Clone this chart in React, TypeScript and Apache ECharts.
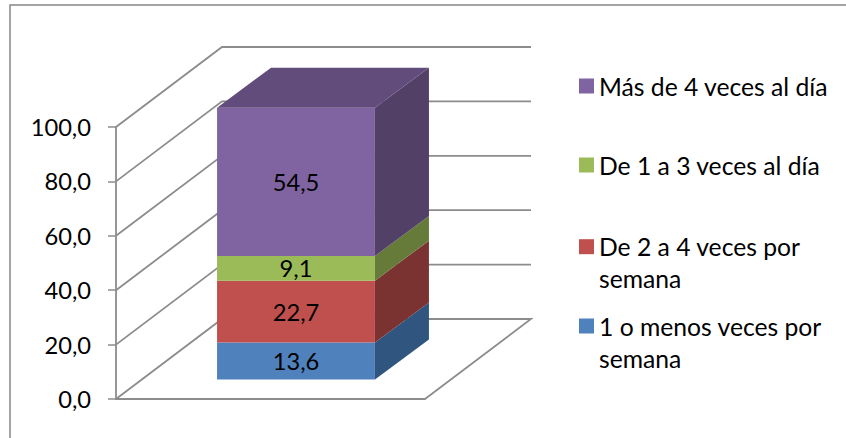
import React, { useEffect, useRef } from "react";
import * as echarts from "echarts";

const categories = ["Frecuencia"];
const seriesNames = [
  "1 o menos veces por\nsemana",
  "De 2 a 4 veces por\nsemana",
  "De 1 a 3 veces al día",
  "Más de 4 veces al día",
];
const seriesValues = [13.6, 22.7, 9.1, 54.5];
const frontColors = ["#4F81BD", "#C0504D", "#9BBB59", "#8064A2"];
const sideColors = ["#30567F", "#7A3331", "#667B3A", "#534066"];
const topColor = "#624C7B";
const tickValues = [0, 20, 40, 60, 80, 100];
const legendTops = [278, 198.7, 149, 70];

const FONT = "Lato";
const LABEL_SIZE = 23.7;
const GRAY = "#8C8C8C";
const WALL_DX = 106;
const WALL_DY = -80;
const BAR_DX = 54;
const BAR_DY = -40;
const BAR_LIFT = 19.6;
const BAR_FRACTION = 0.511;
const BAR_SHIFT = 25.5;

const fmt = (v: number) => v.toFixed(1).replace(".", ",");

export default function App() {
  const ref = useRef<HTMLDivElement>(null);
  useEffect(() => {
    const chart = echarts.init(ref.current!, undefined, { renderer: "svg" });

    const wallSeries = {
      type: "custom",
      name: "paredes",
      silent: true,
      clip: false,
      z: 1,
      data: tickValues.map((v) => [0, v]),
      encode: { x: 0, y: 1 },
      renderItem: (params: any, api: any) => {
        const c = api.coord([0, api.value(1)]);
        const w = api.size([1, 0])[0];
        const x0 = c[0] - w / 2;
        const pts = [
          [x0, c[1]],
          [x0 + WALL_DX, c[1] + WALL_DY],
          [x0 + w + WALL_DX, c[1] + WALL_DY],
        ];
        if (api.value(1) === 0) pts.push([x0 + w, c[1]]);
        return {
          type: "polyline",
          shape: { points: pts },
          style: { fill: "none", stroke: GRAY, lineWidth: 1.8 },
        };
      },
    };

    const barSeries = seriesValues.map((value, i) => {
      const start = seriesValues.slice(0, i).reduce((a, b) => a + b, 0);
      return {
        type: "custom",
        name: seriesNames[i],
        clip: false,
        z: 2 + i,
        itemStyle: { color: frontColors[i] },
        data: [[0, start, start + value, value]],
        encode: { x: 0, y: 2 },
        renderItem: (params: any, api: any) => {
          const lo = api.coord([0, api.value(1)]);
          const hi = api.coord([0, api.value(2)]);
          const w = api.size([1, 0])[0] * BAR_FRACTION;
          const xL = lo[0] + BAR_SHIFT - w / 2;
          const xR = xL + w;
          const yB = lo[1] - BAR_LIFT;
          const yT = hi[1] - BAR_LIFT;
          const children: any[] = [
            {
              type: "polygon",
              shape: { points: [[xR, yB], [xR + BAR_DX, yB + BAR_DY], [xR + BAR_DX, yT + BAR_DY], [xR, yT]] },
              style: { fill: sideColors[i] },
            },
            {
              type: "rect",
              shape: { x: xL, y: yT, width: w, height: yB - yT },
              style: { fill: frontColors[i] },
            },
          ];
          if (i === seriesValues.length - 1) {
            children.push({
              type: "polygon",
              shape: { points: [[xL, yT], [xL + BAR_DX, yT + BAR_DY], [xR + BAR_DX, yT + BAR_DY], [xR, yT]] },
              style: { fill: topColor },
            });
          }
          children.push({
            type: "text",
            style: {
              text: fmt(api.value(3)),
              x: (xL + xR) / 2,
              y: (yT + yB) / 2,
              align: "center",
              verticalAlign: "middle",
              fontFamily: FONT,
              fontSize: LABEL_SIZE,
              fill: "#000",
            },
          });
          return { type: "group", children };
        },
      };
    });

    chart.setOption({
      animation: false,
      backgroundColor: "#fff",
      grid: { left: 116, top: 127, width: 309, height: 272, containLabel: false },
      xAxis: {
        type: "category",
        data: categories,
        axisLine: { show: true, lineStyle: { color: GRAY, width: 1.8 } },
        axisTick: { show: false },
        axisLabel: { show: false },
        splitLine: { show: false },
      },
      yAxis: {
        type: "value",
        min: 0,
        max: 100,
        interval: 20,
        axisLine: { show: true, lineStyle: { color: GRAY, width: 1.8 } },
        axisTick: { show: true, length: 8, lineStyle: { color: GRAY, width: 1.5 } },
        splitLine: { show: false },
        axisLabel: {
          formatter: fmt,
          margin: 25,
          fontFamily: FONT,
          fontSize: LABEL_SIZE,
          color: "#000",
        },
      },
      legend: seriesNames.map((name, i) => ({
        data: [name],
        left: 579,
        top: legendTops[i],
        padding: 0,
        icon: "rect",
        itemWidth: 15,
        itemHeight: 15,
        selectedMode: false,
        // A blank first line keeps the swatch level with the first written line.
        formatter: (n: string) => (n.includes("\n") ? "\n" + n : n),
        textStyle: {
          fontFamily: FONT,
          fontSize: 24.7,
          color: "#000",
          lineHeight: 32,
        },
      })),
      graphic: [
        {
          type: "rect",
          silent: true,
          z: -1,
          shape: { x: 10, y: 5, width: 900, height: 500 },
          style: { fill: "none", stroke: "#868686", lineWidth: 1.5 },
        },
      ],
      series: [wallSeries, ...barSeries],
    });
    return () => chart.dispose();
  }, []);
  return (
    <div
      ref={ref}
      style={{ position: "absolute", left: 0, top: 0, width: 846, height: 438 }}
    />
  );
}
